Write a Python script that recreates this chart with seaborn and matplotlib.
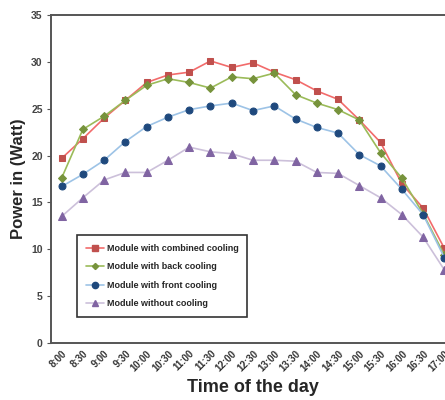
import matplotlib
matplotlib.use("Agg")
import matplotlib.pyplot as plt
import seaborn as sns
import numpy as np
from matplotlib.lines import Line2D

times = ["8:00", "8:30", "9:00", "9:30", "10:00", "10:30", "11:00", "11:30",
         "12:00", "12:30", "13:00", "13:30", "14:00", "14:30", "15:00",
         "15:30", "16:00", "16:30", "17:00"]

combined = [19.7, 21.8, 24.0, 25.9, 27.8, 28.6, 28.9, 30.1, 29.4, 29.9,
            28.9, 28.1, 26.9, 26.0, 23.8, 21.4, 17.0, 14.4, 10.1]
back = [17.6, 22.8, 24.2, 25.9, 27.5, 28.2, 27.8, 27.2, 28.4, 28.2,
        28.8, 26.5, 25.6, 24.9, 23.8, 20.3, 17.6, 13.8, 9.4]
front = [16.7, 18.0, 19.5, 21.5, 23.1, 24.1, 24.9, 25.3, 25.6, 24.8,
         25.3, 23.9, 23.0, 22.4, 20.1, 18.9, 16.4, 13.7, 9.1]
without = [13.5, 15.5, 17.4, 18.2, 18.2, 19.5, 20.9, 20.4, 20.2, 19.5,
           19.5, 19.4, 18.2, 18.1, 16.8, 15.5, 13.7, 11.3, 7.8]

labels = ["Module with combined cooling", "Module with back cooling",
          "Module with front cooling", "Module without cooling"]

sns.set_style("white")
plt.rcParams["font.family"] = ["Liberation Sans", "DejaVu Sans"]

fig = plt.figure(figsize=(4.45, 4.0), dpi=100)
ax = fig.add_axes([51 / 445, 1 - 343 / 400, 404 / 445, 328 / 400])

x = np.arange(len(times))
styles = [
    (combined, "#F26B6B", "#C0504D", "s", 4.5),
    (back, "#9BBB59", "#77933C", "D", 3.6),
    (front, "#9DC3E6", "#1F497D", "o", 5),
    (without, "#CCC0DA", "#8064A2", "^", 5.5),
]

handles = []
for (vals, lc, mc, mk, ms), lab in zip(styles, labels):
    sns.lineplot(x=x, y=vals, ax=ax, color=lc, linewidth=1.2, marker=mk,
                 markersize=ms, markerfacecolor=mc, markeredgecolor=mc)
    handles.append(Line2D([], [], color=lc, linewidth=1.2, marker=mk,
                          markersize=ms - 0.5, markerfacecolor=mc,
                          markeredgecolor=mc))

ax.set_xlim(-0.5, len(times) - 0.5)
ax.set_ylim(0, 35)
ax.set_yticks(range(0, 36, 5))
ax.set_xticks(x)
ax.set_xticklabels(times, rotation=45, ha="right", rotation_mode="anchor",
                   fontsize=7, fontweight="bold", color="#333333")
ax.set_yticklabels([str(v) for v in range(0, 36, 5)], fontsize=7.5,
                   fontweight="bold", color="#444444")
ax.set_xticks(np.arange(-0.5, len(times), 1), minor=True)
ax.tick_params(axis="x", which="major", length=0, pad=4)
ax.tick_params(axis="x", which="minor", length=3, width=0.8, color="#555555",
               direction="out")
ax.tick_params(axis="y", length=3, width=0.8, color="#555555",
               direction="out", pad=3, left=True)

for side in ["left", "bottom", "top"]:
    ax.spines[side].set_color("#555555")
    ax.spines[side].set_linewidth(1.4)
ax.spines["right"].set_visible(False)

ax.set_xlabel("Time of the day", fontsize=13, fontweight="bold", labelpad=4)
ax.set_ylabel("Power in (Watt)", fontsize=12, fontweight="bold", labelpad=4)

leg = ax.legend(handles, labels, loc="upper left",
                bbox_to_anchor=(0.064, 0.33), fancybox=False,
                prop={"size": 6.5, "weight": "bold"}, handlelength=2.0,
                handletextpad=0.3, borderpad=1.0, labelspacing=1.05,
                borderaxespad=0)
leg.get_frame().set_edgecolor("black")
leg.get_frame().set_linewidth(1.2)

plt.savefig("out.png", dpi=100)
